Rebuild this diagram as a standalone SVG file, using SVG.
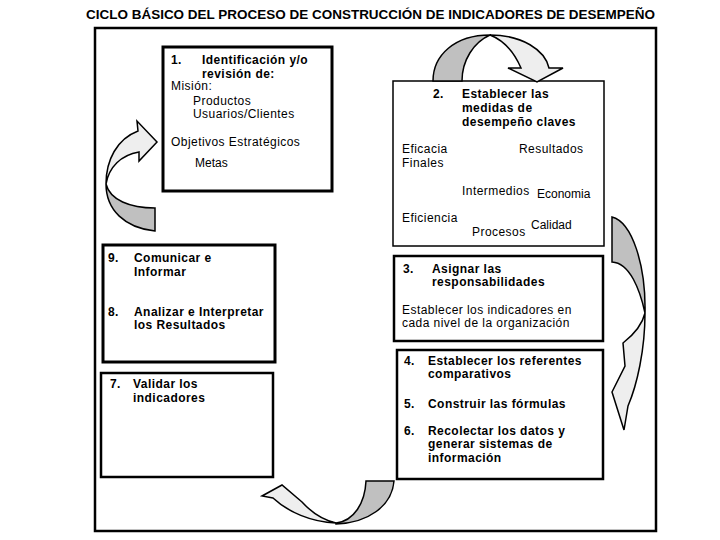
<svg xmlns="http://www.w3.org/2000/svg" width="720" height="540" viewBox="0 0 720 540">
<style>
.t{font-family:"Liberation Sans",Arial,sans-serif;font-size:12px;letter-spacing:0.45px;fill:#000}
.b{font-weight:bold}
.p{letter-spacing:0}
.box{fill:#fff;stroke:#000}
.dk{fill:#c0c0c0;stroke:#000;stroke-width:1.5;stroke-linejoin:miter}
.lt{fill:#eeeeee;stroke:#000;stroke-width:1.5;stroke-linejoin:miter}
</style>
<rect width="720" height="540" fill="#fff"/>
<text id="title" class="t p b" x="86" y="19" font-size="14.5" textLength="569" lengthAdjust="spacingAndGlyphs">CICLO BÁSICO DEL PROCESO DE CONSTRUCCIÓN DE INDICADORES DE DESEMPEÑO</text>
<rect id="frame" x="95" y="28" width="561" height="503" fill="none" stroke="#000" stroke-width="2.5"/>

<g id="node1">
<rect class="box" x="163" y="47" width="169" height="144" stroke-width="3"/>
<text class="t b" x="171" y="64">1.</text>
<text class="t b" x="202" y="64">Identificación y/o</text>
<text class="t b" x="202" y="77.5">revisión de:</text>
<text class="t" x="171" y="90">Misión:</text>
<text class="t" x="193" y="105">Productos</text>
<text class="t" x="193" y="118">Usuarios/Clientes</text>
<text class="t" x="171" y="146">Objetivos Estratégicos</text>
<text class="t p" x="195" y="167" font-size="11">Metas</text>
</g>

<g id="node2">
<rect class="box" x="393" y="81" width="211" height="165" stroke-width="1.5"/>
<text class="t b" x="433" y="98">2.</text>
<text class="t b" x="462" y="98">Establecer las</text>
<text class="t b" x="462" y="112">medidas de</text>
<text class="t b" x="462" y="126">desempeño claves</text>
<text class="t" x="402" y="153">Eficacia</text>
<text class="t" x="402" y="167">Finales</text>
<text class="t" x="519" y="153">Resultados</text>
<text class="t" x="462" y="195">Intermedios</text>
<text class="t p" x="537" y="198" font-size="11">Economia</text>
<text class="t" x="402" y="222">Eficiencia</text>
<text class="t" x="472" y="236">Procesos</text>
<text class="t p" x="531" y="229" font-size="13.5">Calidad</text>
</g>

<g id="node3">
<rect class="box" x="394" y="256" width="209" height="85" stroke-width="2.5"/>
<text class="t b" x="403" y="273">3.</text>
<text class="t b" x="432" y="273">Asignar las</text>
<text class="t b" x="432" y="286">responsabilidades</text>
<text class="t" x="402" y="314">Establecer los indicadores en</text>
<text class="t" x="402" y="327">cada nivel de la organización</text>
</g>

<g id="node4">
<rect class="box" x="397" y="350" width="206" height="129" stroke-width="2.5"/>
<text class="t b" x="404" y="365">4.</text>
<text class="t b" x="428" y="365">Establecer los referentes</text>
<text class="t b" x="428" y="378">comparativos</text>
<text class="t b" x="404" y="408">5.</text>
<text class="t b" x="428" y="408">Construir las fórmulas</text>
<text class="t b" x="404" y="435">6.</text>
<text class="t b" x="428" y="435">Recolectar los datos y</text>
<text class="t b" x="428" y="448">generar sistemas de</text>
<text class="t b" x="428" y="462">información</text>
</g>

<g id="node98">
<rect class="box" x="103" y="245" width="172" height="117" stroke-width="3"/>
<text class="t b" x="108" y="262">9.</text>
<text class="t b" x="134" y="262">Comunicar e</text>
<text class="t b" x="134" y="276">Informar</text>
<text class="t b" x="108" y="316">8.</text>
<text class="t b" x="134" y="316">Analizar e Interpretar</text>
<text class="t b" x="134" y="329">los Resultados</text>
</g>

<g id="node7">
<rect class="box" x="101" y="373" width="172" height="104" stroke-width="2.5"/>
<text class="t b" x="110" y="388">7.</text>
<text class="t b" x="133" y="388">Validar los</text>
<text class="t b" x="133" y="402">indicadores</text>
</g>

<g id="connectors">
<g id="arrow-left">
<path class="dk" d="M106,184 C106,210 125,228 155,231 L155,208 C130,208 110,200 106,184 Z"/>
<path class="lt" d="M106,184 C106,160 117,139 138,131 L137,121 L157,142 L139,161 L139,152 C121,155 109,167 106,184 Z"/>
</g>
<g id="arrow-top">
<path class="dk" d="M433,81 C433,55 455,35 490,35 C474,42 462,60 462,81 Z"/>
<path class="lt" d="M490,35 C522,35 545,50 549,68 L563,68 L537,82 L508,68 L521,68 C514,52 503,40 490,35 Z"/>
</g>
<g id="arrow-right">
<path class="dk" d="M612,217 C632,222 646,265 645,313 C640,290 630,263 612,262 Z"/>
<path class="lt" d="M645,313 C645,350 637,385 628,406 L624,430 L612,392 L625,366 L623,343 C632,336 642,326 645,313 Z"/>
</g>
<g id="arrow-bottom">
<path class="dk" d="M336,523 C354,521 365,503 366,481 L394,481 C392,506 368,523 336,524 Z"/>
<path class="lt" d="M273,498 L262,496 L282,485 L302,502 C312,513 323,520 336,523 C311,522 288,512 273,498 Z"/>
</g>
</g>
</svg>
